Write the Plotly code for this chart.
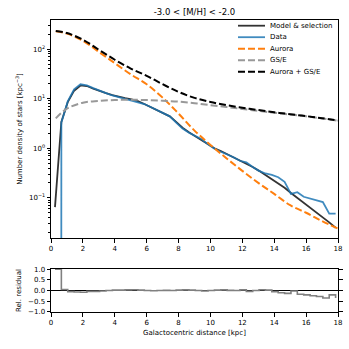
import plotly.graph_objects as go

# radial bins [kpc]
r = [0.25, 0.65, 1.05, 1.45, 1.85, 2.25, 2.65, 3.05, 3.45, 3.85,
     4.25, 4.65, 5.05, 5.45, 5.85, 6.25, 6.65, 7.05, 7.45, 7.85,
     8.25, 8.65, 9.05, 9.45, 9.85, 10.25, 10.65, 11.05, 11.45, 11.85,
     12.25, 12.65, 13.05, 13.45, 13.85, 14.25, 14.65, 15.05, 15.45, 15.85,
     16.25, 16.65, 17.05, 17.45, 17.85]

model = [0.065, 3.4, 8.5, 14.5, 18.5, 18.0, 16.0, 14.2, 13.0, 11.8,
         10.9, 10.3, 9.7, 8.9, 7.8, 6.8, 6.0, 5.2, 4.4, 3.4,
         2.6, 2.1, 1.75, 1.5, 1.2, 1.0, 0.88, 0.76, 0.66, 0.58,
         0.5, 0.42, 0.35, 0.29, 0.24, 0.2, 0.16, 0.125, 0.1, 0.08,
         0.064, 0.051, 0.041, 0.032, 0.025]

data = [0, 3.3, 8.8, 15.5, 19.5, 18.5, 16.3, 14.3, 13.0, 11.6,
        10.7, 10.0, 9.3, 8.6, 7.8, 6.8, 5.9, 5.1, 4.4, 3.3,
        2.5, 2.05, 1.75, 1.52, 1.2, 0.98, 0.85, 0.75, 0.66, 0.56,
        0.52, 0.42, 0.35, 0.31, 0.29, 0.26, 0.21, 0.12, 0.13, 0.105,
        0.097, 0.09, 0.082, 0.048, 0.048]

residual = [1.0, 0.05, -0.05, -0.07, -0.08, -0.04, -0.04, -0.02, 0.0, 0.02,
            0.02, 0.03, 0.04, 0.02, 0.0, -0.01, 0.0, 0.01, 0.0, 0.02,
            0.03, 0.02, 0.0, -0.02, 0.0, 0.02, 0.03, 0.01, 0.0, 0.03,
            -0.04, 0.0, 0.04, 0.02, -0.05, -0.1, -0.13, -0.02, -0.17, -0.2,
            -0.24, -0.28, -0.35, -0.2, -0.35]

# smooth density profiles
r_prof = [0.3, 1, 2, 3, 4, 5, 6, 7, 8, 9, 10, 11, 12, 13, 14, 15, 16, 17, 18]
aurora = [228, 205, 147, 88, 52, 31, 19.5, 10.5, 5.0, 2.27, 1.17, 0.63, 0.35,
          0.2, 0.12, 0.071, 0.05, 0.034, 0.024]
gse = [4.0, 6.3, 8.3, 9.0, 9.4, 9.5, 9.4, 9.1, 8.7, 8.1, 7.4, 6.8, 6.2, 5.7,
       5.2, 4.8, 4.4, 4.0, 3.6]
total = [232, 211, 155, 97, 61, 40.5, 28.9, 19.6, 13.7, 10.4, 8.6, 7.4, 6.55,
         5.9, 5.32, 4.87, 4.45, 4.03, 3.62]

FONT = "DejaVu Sans"
W = H = 349
DASH = "7px,3px"

# matplotlib-style log clipping of non-positive values
data_plot = [v if v > 0 else 1e-300 for v in data]

styles = [
    ("Model & selection", dict(color="rgba(0,0,0,0.8)", width=1.8)),
    ("Data", dict(color="rgba(31,119,180,0.85)", width=1.8)),
    ("Aurora", dict(color="#ff7f0e", width=2, dash=DASH)),
    ("GS/E", dict(color="#999999", width=2, dash=DASH)),
    ("Aurora + GS/E", dict(color="black", width=2, dash=DASH)),
]

fig = go.Figure()
fig.add_trace(go.Scatter(x=r, y=model, mode="lines", line=styles[0][1]))
fig.add_trace(go.Scatter(x=r, y=data_plot, mode="lines", line=styles[1][1]))
fig.add_trace(go.Scatter(x=r_prof, y=aurora, mode="lines", line=dict(styles[2][1], shape="spline")))
fig.add_trace(go.Scatter(x=r_prof, y=gse, mode="lines", line=dict(styles[3][1], shape="spline")))
fig.add_trace(go.Scatter(x=r_prof, y=total, mode="lines", line=dict(styles[4][1], shape="spline")))

fig.add_trace(go.Scatter(x=r, y=residual, mode="lines",
                         line=dict(color="#808080", width=1.6, shape="hv"),
                         xaxis="x2", yaxis="y2"))

# compact legend (plotly's own legend rows are too tall at this size)
for i, (label, st) in enumerate(styles):
    py = 25.7 + i * 11.5
    fig.add_shape(type="line", xref="paper", yref="paper",
                  x0=(238 - 51) / 287, x1=(265 - 51) / 287,
                  y0=1 - (py - 20) / 292, y1=1 - (py - 20) / 292,
                  line=st)
    fig.add_annotation(text=label, xref="paper", yref="paper",
                       x=(268 - 51) / 287, y=1 - (py - 20) / 292,
                       xanchor="left", yanchor="middle", showarrow=False,
                       font=dict(size=7, color="black"))

minor_log = [k * 10 ** e for e in range(-2, 3) for k in range(2, 10)]
minor_log = [v for v in minor_log if 0.0155 < v < 386]

axis_common = dict(showgrid=False, zeroline=False, showline=True, linecolor="black",
                   linewidth=1, ticks="outside", ticklen=3.5, tickwidth=0.8,
                   tickcolor="black", tickfont=dict(size=7, color="black"),
                   automargin=False)

fig.update_layout(
    width=W, height=H, autosize=False, showlegend=False,
    margin=dict(l=51, r=11, t=20, b=37),
    paper_bgcolor="white", plot_bgcolor="white",
    font=dict(family=FONT, size=7, color="black"),
    title=dict(text="-3.0 < [M/H] < -2.0", x=(51 + 287 / 2) / W, xanchor="center",
               y=1 - 12 / H, yanchor="middle", font=dict(size=8.5), automargin=False),
    xaxis=dict(axis_common, range=[0, 18], domain=[0, 1], anchor="y",
               tickvals=list(range(0, 19, 2)), mirror=True),
    yaxis=dict(axis_common, type="log", range=[-1.81, 2.587], domain=[0.2534, 1],
               anchor="x", mirror=True,
               tickvals=[0.1, 1, 10, 100],
               ticktext=["10<sup>\u22121</sup>", "10<sup>0</sup>", "10<sup>1</sup>", "10<sup>2</sup>"],
               minor=dict(tickvals=minor_log, ticks="outside", ticklen=2, tickwidth=0.6,
                          tickcolor="black"),
               title=dict(text="Number density of stars [kpc<sup>\u22123</sup>]",
                          font=dict(size=7), standoff=5)),
    xaxis2=dict(axis_common, range=[0, 18], domain=[0, 1], anchor="y2",
                tickvals=list(range(0, 19, 2)), mirror=True,
                title=dict(text="Galactocentric distance [kpc]", font=dict(size=7), standoff=4)),
    yaxis2=dict(axis_common, range=[-1, 1], domain=[0, 0.147], anchor="x2",
                mirror="ticks", tickvals=[-1, -0.5, 0, 0.5, 1], tickformat=".1f",
                zeroline=True, zerolinecolor="black", zerolinewidth=1,
                title=dict(text="Rel. residual", font=dict(size=7), standoff=5)),
)

fig.write_html("out.html", config={"displayModeBar": False},
               post_script="document.body.style.margin='0';document.body.style.overflow='hidden';")
